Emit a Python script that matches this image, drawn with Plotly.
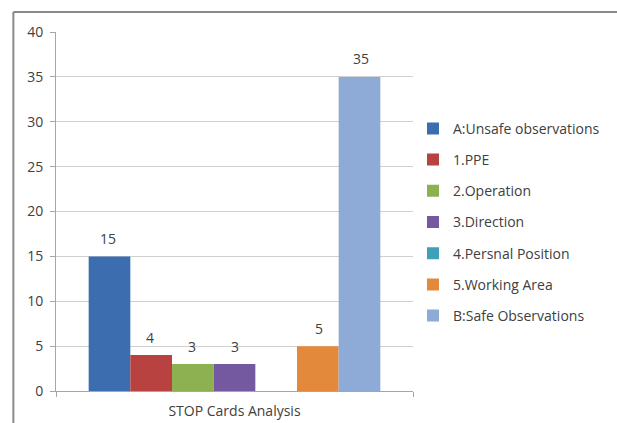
import plotly.graph_objects as go

category = ["STOP Cards Analysis"]
series_names = ["A:Unsafe observations", "1.PPE", "2.Operation", "3.Direction",
                "4.Persnal Position", "5.Working Area", "B:Safe Observations"]
series_values = [15, 4, 3, 3, 0, 5, 35]
series_colors = ["#3C6EAF", "#B7423F", "#8DB150", "#7458A0", "#3FA1B8", "#E3893C", "#8EAAD6"]

FONT = "Open Sans"
FSIZE = 14
PLOT_W = 360
BARGAP = 0.183
n = len(series_names)
bar_px = PLOT_W * (1 - BARGAP) / n

fig = go.Figure()
for i, (name, val, col) in enumerate(zip(series_names, series_values, series_colors)):
    fig.add_trace(go.Bar(
        x=category, y=[val], name=name, marker_color=col, marker_line_width=0,
        legendgroup=name,
    ))
    if val:
        fig.add_annotation(x=category[0], y=val, xref="x", yref="y",
                           text=str(val), showarrow=False,
                           xshift=(i - (n - 1) / 2) * bar_px, yshift=18,
                           font=dict(family=FONT, size=FSIZE, color="#404040"))

fig.update_layout(
    width=617, height=423,
    margin=dict(l=56, r=201, t=32, b=32),
    paper_bgcolor="white", plot_bgcolor="white",
    barmode="group", bargap=BARGAP, bargroupgap=0,
    font=dict(family=FONT, size=FSIZE, color="#404040"),
    legend=dict(x=1.0, y=0.775, xanchor="left", yanchor="top",
                font=dict(family=FONT, size=FSIZE, color="#404040"),
                tracegroupgap=10, itemwidth=30, bgcolor="rgba(0,0,0,0)"),
    showlegend=True,
)
fig.update_yaxes(range=[0, 40], dtick=5, showgrid=True, gridcolor="#D0D0D0", gridwidth=1,
                 showline=True, linecolor="#A6A6A6", linewidth=1,
                 ticks="outside", ticklen=5, tickcolor="#A6A6A6", ticklabelstandoff=4,
                 tickfont=dict(family=FONT, size=FSIZE, color="#404040"), zeroline=False,
                 automargin=False)
fig.update_xaxes(showline=True, linecolor="#A6A6A6", linewidth=1,
                 ticks="outside", ticklen=5, tickcolor="#A6A6A6", tickson="boundaries",
                 ticklabelstandoff=7, automargin=False,
                 tickfont=dict(family=FONT, size=FSIZE, color="#404040"))

# outer chart frame (top and left edges)
fig.add_shape(type="line", xref="paper", yref="paper",
              x0=(13 - 56) / 360, x1=(650 - 56) / 360, y0=(391 - 12) / 359, y1=(391 - 12) / 359,
              line=dict(color="#8A8A8A", width=2))
fig.add_shape(type="line", xref="paper", yref="paper",
              x0=(13 - 56) / 360, x1=(13 - 56) / 360, y0=(391 - 12) / 359, y1=(391 - 430) / 359,
              line=dict(color="#8A8A8A", width=2))

fig.write_html("out.html", config={"displayModeBar": False})
